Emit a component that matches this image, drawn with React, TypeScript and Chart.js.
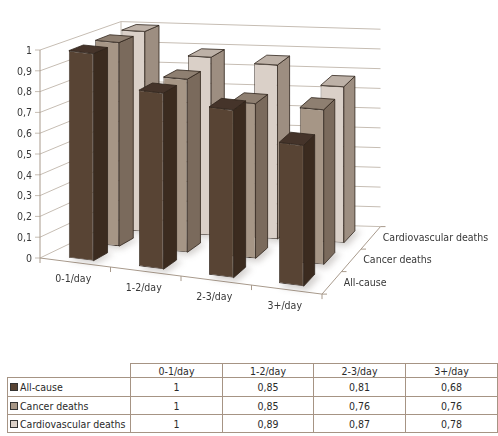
import { useEffect, useRef } from "react";
import { Chart, registerables } from "chart.js";

Chart.register(...registerables);

const categories = ["0-1/day", "1-2/day", "2-3/day", "3+/day"];
const seriesNames = ["All-cause", "Cancer deaths", "Cardiovascular deaths"];
const allCause = [1, 0.85, 0.81, 0.68];
const cancerDeaths = [1, 0.85, 0.76, 0.76];
const cardiovascularDeaths = [1, 0.89, 0.87, 0.78];
const yTickValues = [0, 0.1, 0.2, 0.3, 0.4, 0.5, 0.6, 0.7, 0.8, 0.9, 1];

const seriesValues = [allCause, cancerDeaths, cardiovascularDeaths];

// front / side / top face colours per series
const faceColors = [
  { front: "#584434", side: "#3b2b1f", top: "#45342a" },
  { front: "#a69686", side: "#7a6a5c", top: "#8e7f71" },
  { front: "#dad0c8", side: "#9d8e81", top: "#bdb1a7" },
];
const outline = "#2e231b";

const FONT = '"DejaVu Sans Condensed", "Liberation Sans", sans-serif';
const FONT_SIZE = 10.5;

// fake 3d set-up: floor slope, depth per row at left/right end, height shrink per row
const SLOPE = 0.128;
const DEPTH_LEFT = { dx: 27, dy: 13 };
const DEPTH_RIGHT = { dx: 19.5, dy: 22.5 };
const SHRINK = 0.017;
const ROWS = 3;
const BAR_FRONT = 0.225;
const BAR_DEPTH = 0.55;

const commaNumber = (v: number) => String(v).replace(".", ",");

function makeProjector(chart: any) {
  const { left: x0, right: x1 } = chart.chartArea;
  const yb = chart.scales.y.getPixelForValue(0);
  const L = x1 - x0;
  const B = (DEPTH_RIGHT.dx - DEPTH_LEFT.dx) / L;
  const E = (DEPTH_RIGHT.dy - DEPTH_LEFT.dy) / L;
  const P = (x: number, y: number, d: number): [number, number] => {
    const sc = 1 - SHRINK * d;
    return [
      x + d * (DEPTH_LEFT.dx + B * (x - x0)),
      yb + sc * (y - yb) + SLOPE * (x - x0) - d * (DEPTH_LEFT.dy + E * (x - x0)),
    ];
  };
  // same mapping as a canvas transform, for a fixed depth
  const matrix = (d: number): [number, number, number, number, number, number] => {
    const sc = 1 - SHRINK * d;
    return [
      1 + d * B,
      SLOPE - d * E,
      0,
      sc,
      d * DEPTH_LEFT.dx - d * B * x0,
      yb * (1 - sc) - SLOPE * x0 - d * DEPTH_LEFT.dy + d * E * x0,
    ];
  };
  return { P, matrix, x0, x1, yb };
}

function polyline(ctx: CanvasRenderingContext2D, pts: [number, number][], close = false) {
  ctx.beginPath();
  pts.forEach(([x, y], i) => (i === 0 ? ctx.moveTo(x, y) : ctx.lineTo(x, y)));
  if (close) ctx.closePath();
}

const pseudo3d = {
  id: "pseudo3d",
  beforeDatasetsDraw(chart: any) {
    const { ctx, scales } = chart;
    const { P, x0, x1, yb } = makeProjector(chart);
    const yTop = scales.y.getPixelForValue(1);
    ctx.save();
    ctx.lineWidth = 1;

    // walls
    ctx.strokeStyle = "#c6bdb3";
    yTickValues.forEach((v) => {
      const yv = scales.y.getPixelForValue(v);
      polyline(ctx, [[x0 - 5, yv], P(x0, yv, 0), P(x0, yv, ROWS), P(x1, yv, ROWS)]);
      ctx.stroke();
    });
    polyline(ctx, [P(x0, yb, ROWS), P(x0, yTop, ROWS)]);
    ctx.stroke();

    // axes and floor edges
    ctx.strokeStyle = "#a89a8c";
    polyline(ctx, [P(x0, yTop, 0), P(x0, yb, 0), P(x1, yb, 0), P(x1, yb, ROWS)]);
    ctx.stroke();
    const n = categories.length;
    for (let i = 0; i <= n; i++) {
      const xb = x0 + ((x1 - x0) * i) / n;
      const [px, py] = P(xb, yb, 0);
      polyline(ctx, [[px, py], [px, py + 5]]);
      ctx.stroke();
    }
    for (let k = 0; k <= ROWS; k++) {
      const [px, py] = P(x1, yb, k);
      polyline(ctx, [[px, py], [px + 5, py]]);
      ctx.stroke();
    }

    // labels
    ctx.fillStyle = "#383838";
    ctx.font = `${FONT_SIZE}px ${FONT}`;
    ctx.textAlign = "right";
    ctx.textBaseline = "middle";
    yTickValues.forEach((v) => {
      ctx.fillText(commaNumber(v), x0 - 8, scales.y.getPixelForValue(v) + 1);
    });
    ctx.textAlign = "center";
    categories.forEach((c, i) => {
      const [px, py] = P(scales.x.getPixelForValue(i), yb, 0);
      ctx.fillText(c, px - 2, py + 17);
    });
    ctx.textAlign = "left";
    seriesNames.forEach((s, k) => {
      const [px, py] = P(x1, yb, k + 0.5);
      ctx.fillText(s, px + 12, py);
    });
    ctx.restore();
  },
  beforeDatasetDraw(chart: any, args: any) {
    const { ctx } = chart;
    const { P, matrix } = makeProjector(chart);
    const d0 = args.index + BAR_FRONT;
    const d1 = d0 + BAR_DEPTH;
    // soft floor shadows under this row
    ctx.save();
    ctx.filter = "blur(3px)";
    ctx.fillStyle = "rgba(60, 45, 35, 0.22)";
    args.meta.data.forEach((bar: any) => {
      const { x, base, width } = bar.getProps(["x", "base", "width"], true);
      const xl = x - width / 2 + 4;
      const xr = x + width / 2 + 7;
      polyline(ctx, [P(xl, base, d0 - 0.15), P(xr, base, d0 - 0.15), P(xr, base, d1), P(xl, base, d1)], true);
      ctx.fill();
    });
    ctx.restore();

    ctx.save();
    ctx.transform(...matrix(d0));
  },
  afterDatasetDraw(chart: any, args: any) {
    const { ctx } = chart;
    ctx.restore();
    const { P } = makeProjector(chart);
    const colors = faceColors[args.index];
    const d0 = args.index + BAR_FRONT;
    const d1 = d0 + BAR_DEPTH;
    ctx.save();
    ctx.lineWidth = 0.8;
    ctx.strokeStyle = outline;
    args.meta.data.forEach((bar: any) => {
      const { x, y, base, width } = bar.getProps(["x", "y", "base", "width"], true);
      const xl = x - width / 2;
      const xr = x + width / 2;
      polyline(ctx, [P(xr, y, d0), P(xr, y, d1), P(xr, base, d1), P(xr, base, d0)], true);
      ctx.fillStyle = colors.side;
      ctx.fill();
      ctx.stroke();
      polyline(ctx, [P(xl, y, d0), P(xr, y, d0), P(xr, y, d1), P(xl, y, d1)], true);
      ctx.fillStyle = colors.top;
      ctx.fill();
      ctx.stroke();
    });
    ctx.restore();
  },
};

export default function App() {
  const canvasRef = useRef<HTMLCanvasElement | null>(null);

  useEffect(() => {
    if (!canvasRef.current) {
      return;
    }

    const chart = new Chart(canvasRef.current, {
      type: "bar",
      data: {
        labels: categories,
        datasets: seriesNames.map((name, i) => ({
          label: name,
          data: seriesValues[i],
          backgroundColor: faceColors[i].front,
          borderColor: outline,
          borderWidth: 0.8,
          borderSkipped: false,
          grouped: false,
          categoryPercentage: 1,
          barPercentage: 0.35,
          clip: false,
        })),
      },
      options: {
        responsive: false,
        animation: false,
        layout: { padding: { left: 40, right: 176, top: 50, bottom: 82 } },
        plugins: {
          legend: { display: false },
          tooltip: { enabled: false },
        },
        scales: {
          x: { display: false },
          y: { display: false, min: 0, max: 1 },
        },
      },
      plugins: [pseudo3d],
    });

    return () => {
      chart.destroy();
    };
  }, []);

  const cell: React.CSSProperties = {
    border: "1px solid #a69484",
    padding: 0,
    textAlign: "center",
    fontWeight: "normal",
    lineHeight: "12px",
  };

  return (
    <div
      style={{
        position: "absolute",
        left: 0,
        top: 0,
        width: 498,
        height: 436,
        background: "#fff",
        fontFamily: FONT,
      }}
    >
      <canvas ref={canvasRef} width={498} height={340} style={{ display: "block" }} />
      <table
        style={{
          position: "absolute",
          left: 7,
          top: 363,
          width: 490,
          borderCollapse: "collapse",
          tableLayout: "fixed",
          fontSize: FONT_SIZE,
          color: "#2a2a2a",
        }}
      >
        <colgroup>
          <col style={{ width: 123 }} />
          <col style={{ width: 92 }} />
          <col style={{ width: 91 }} />
          <col style={{ width: 92 }} />
          <col style={{ width: 92 }} />
        </colgroup>
        <thead>
          <tr style={{ height: 14 }}>
            <th style={{ ...cell, borderTop: "none", borderLeft: "none" }} />
            {categories.map((c) => (
              <th key={c} style={cell}>
                {c}
              </th>
            ))}
          </tr>
        </thead>
        <tbody>
          {seriesNames.map((name, i) => (
            <tr key={name} style={{ height: i === 0 ? 19 : 18 }}>
              <td style={{ ...cell, textAlign: "left", whiteSpace: "nowrap", paddingLeft: 2 }}>
                <span
                  style={{
                    display: "inline-block",
                    width: 6,
                    height: 6,
                    marginRight: 2,
                    background: faceColors[i].front,
                    border: "1px solid #333",
                  }}
                />
                {name}
              </td>
              {seriesValues[i].map((v, j) => (
                <td key={j} style={cell}>
                  {commaNumber(v)}
                </td>
              ))}
            </tr>
          ))}
        </tbody>
      </table>
    </div>
  );
}
